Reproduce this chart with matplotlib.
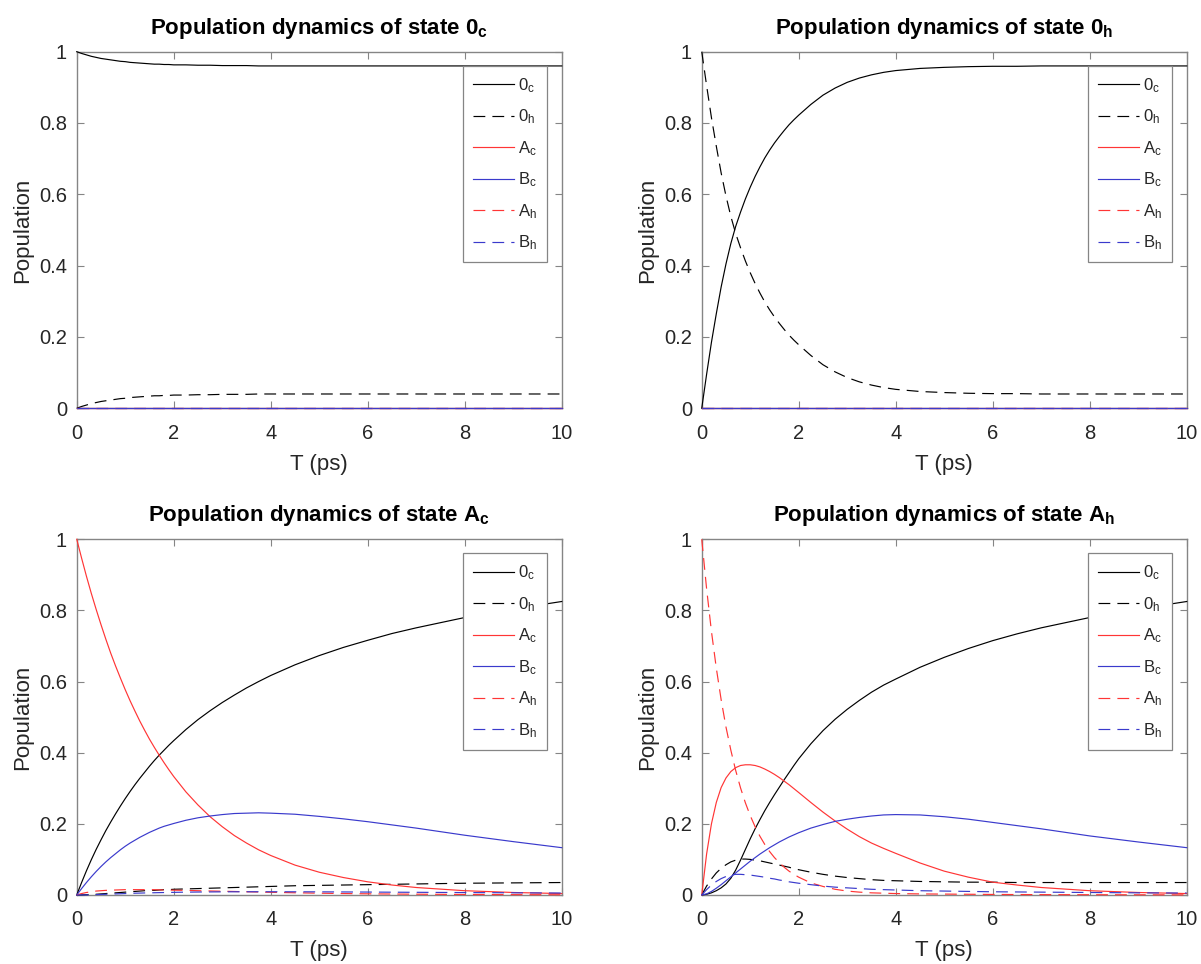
import matplotlib
matplotlib.use("Agg")
import matplotlib.pyplot as plt
from matplotlib.ticker import FuncFormatter

plt.rcParams["font.family"] = ["Liberation Sans", "DejaVu Sans"]
plt.rcParams["mathtext.fontset"] = "custom"
plt.rcParams["mathtext.rm"] = "Liberation Sans"
plt.rcParams["mathtext.it"] = "Liberation Sans:italic"
plt.rcParams["mathtext.bf"] = "Liberation Sans:bold"

# time axis (ps)
t = [0, 0.1, 0.2, 0.3, 0.4, 0.5, 0.6, 0.7, 0.8, 0.9,
     1.0, 1.1, 1.2, 1.3, 1.4, 1.5, 1.6, 1.7, 1.8, 1.9,
     2.0, 2.25, 2.5, 2.75, 3.0, 3.25, 3.5, 3.75, 4.0, 4.5,
     5.0, 5.5, 6.0, 6.5, 7.0, 8.0, 9.0, 10.0]
zero = [0.0] * len(t)

# ---- initial state 0c ----
p0c_0c = [1.000, 0.995, 0.991, 0.987, 0.984, 0.981, 0.979, 0.977, 0.975, 0.973,
          0.972, 0.970, 0.969, 0.968, 0.967, 0.966, 0.965, 0.965, 0.964, 0.964,
          0.963, 0.963, 0.962, 0.962, 0.961, 0.961, 0.961, 0.960, 0.960, 0.960,
          0.960, 0.960, 0.960, 0.960, 0.960, 0.960, 0.960, 0.960]
p0c_0h = [0.000, 0.005, 0.009, 0.013, 0.016, 0.019, 0.021, 0.023, 0.025, 0.027,
          0.028, 0.030, 0.031, 0.032, 0.033, 0.034, 0.035, 0.035, 0.036, 0.036,
          0.037, 0.037, 0.038, 0.038, 0.039, 0.039, 0.039, 0.040, 0.040, 0.040,
          0.040, 0.040, 0.040, 0.040, 0.040, 0.040, 0.040, 0.040]

# ---- initial state 0h ----
p0h_0c = [0.000, 0.095, 0.185, 0.265, 0.340, 0.405, 0.462, 0.510, 0.550, 0.587,
          0.620, 0.650, 0.677, 0.702, 0.724, 0.744, 0.762, 0.779, 0.795, 0.809,
          0.822, 0.852, 0.878, 0.898, 0.914, 0.926, 0.935, 0.942, 0.947, 0.953,
          0.956, 0.958, 0.959, 0.959, 0.960, 0.960, 0.960, 0.960]
p0h_0h = [1.000, 0.905, 0.815, 0.735, 0.660, 0.595, 0.538, 0.490, 0.450, 0.413,
          0.380, 0.350, 0.323, 0.298, 0.276, 0.256, 0.238, 0.221, 0.205, 0.191,
          0.178, 0.148, 0.122, 0.102, 0.086, 0.074, 0.065, 0.058, 0.053, 0.047,
          0.044, 0.042, 0.041, 0.041, 0.040, 0.040, 0.040, 0.040]

# ---- initial state Ac ----
pAc_0c = [0.000, 0.035, 0.068, 0.099, 0.128, 0.155, 0.181, 0.205, 0.228, 0.250,
          0.271, 0.291, 0.310, 0.328, 0.345, 0.362, 0.378, 0.393, 0.407, 0.421,
          0.434, 0.465, 0.493, 0.518, 0.541, 0.562, 0.582, 0.600, 0.617, 0.647,
          0.673, 0.696, 0.716, 0.735, 0.751, 0.780, 0.804, 0.825]
pAc_0h = [0.000, 0.0003, 0.001, 0.0015, 0.002, 0.003, 0.004, 0.005, 0.006, 0.007,
          0.008, 0.009, 0.010, 0.011, 0.012, 0.013, 0.013, 0.014, 0.015, 0.015,
          0.016, 0.017, 0.018, 0.019, 0.020, 0.021, 0.022, 0.023, 0.024, 0.026,
          0.027, 0.028, 0.029, 0.030, 0.031, 0.033, 0.034, 0.035]
pAc_Ac = [1.000, 0.947, 0.896, 0.848, 0.803, 0.760, 0.719, 0.680, 0.644, 0.610,
          0.577, 0.546, 0.517, 0.489, 0.463, 0.438, 0.415, 0.393, 0.372, 0.352,
          0.333, 0.290, 0.253, 0.220, 0.192, 0.167, 0.146, 0.127, 0.111, 0.084,
          0.064, 0.049, 0.037, 0.028, 0.021, 0.012, 0.007, 0.004]
pAc_Bc = [0.000, 0.018, 0.035, 0.051, 0.066, 0.080, 0.093, 0.105, 0.116, 0.127,
          0.137, 0.146, 0.154, 0.162, 0.169, 0.176, 0.182, 0.188, 0.193, 0.197,
          0.201, 0.210, 0.217, 0.222, 0.226, 0.229, 0.230, 0.231, 0.230, 0.227,
          0.221, 0.214, 0.206, 0.197, 0.188, 0.168, 0.150, 0.133]
pAc_Ah = [0.000, 0.004, 0.007, 0.009, 0.011, 0.012, 0.013, 0.0135, 0.014, 0.0145,
          0.015, 0.015, 0.015, 0.015, 0.015, 0.015, 0.0148, 0.0145, 0.014, 0.0138,
          0.0135, 0.013, 0.012, 0.0113, 0.0105, 0.0098, 0.009, 0.0083, 0.0075, 0.0062,
          0.005, 0.004, 0.0033, 0.0027, 0.0022, 0.0014, 0.0009, 0.0006]
pAc_Bh = [0.000, 0.0001, 0.0003, 0.0006, 0.001, 0.0015, 0.002, 0.0025, 0.003, 0.0035,
          0.004, 0.0045, 0.005, 0.0053, 0.0057, 0.006, 0.0063, 0.0066, 0.0069, 0.0071,
          0.0074, 0.0079, 0.0083, 0.0086, 0.0088, 0.009, 0.0091, 0.0091, 0.0091, 0.009,
          0.0088, 0.0085, 0.0082, 0.0078, 0.0075, 0.0068, 0.0061, 0.0055]

# ---- initial state Ah ----
pAh_0c = [0.000, 0.002, 0.006, 0.012, 0.020, 0.031, 0.047, 0.070, 0.098, 0.128,
          0.158, 0.186, 0.212, 0.237, 0.260, 0.282, 0.303, 0.324, 0.344, 0.364,
          0.383, 0.425, 0.462, 0.494, 0.522, 0.547, 0.570, 0.590, 0.607, 0.640,
          0.668, 0.693, 0.715, 0.734, 0.751, 0.780, 0.804, 0.825]
pAh_0h = [0.000, 0.025, 0.045, 0.062, 0.075, 0.085, 0.093, 0.098, 0.101, 0.101,
          0.100, 0.098, 0.096, 0.093, 0.090, 0.087, 0.084, 0.081, 0.078, 0.074,
          0.071, 0.064, 0.058, 0.053, 0.049, 0.046, 0.043, 0.041, 0.040, 0.038,
          0.037, 0.036, 0.036, 0.035, 0.035, 0.035, 0.035, 0.035]
pAh_Ac = [0.000, 0.115, 0.200, 0.260, 0.302, 0.329, 0.347, 0.358, 0.364, 0.366,
          0.366, 0.364, 0.360, 0.354, 0.347, 0.339, 0.330, 0.320, 0.310, 0.299,
          0.288, 0.260, 0.233, 0.208, 0.185, 0.164, 0.146, 0.131, 0.117, 0.090,
          0.067, 0.050, 0.036, 0.028, 0.021, 0.012, 0.007, 0.004]
pAh_Bc = [0.000, 0.003, 0.010, 0.019, 0.029, 0.040, 0.051, 0.062, 0.073, 0.084,
          0.095, 0.105, 0.115, 0.124, 0.133, 0.141, 0.149, 0.156, 0.163, 0.169,
          0.175, 0.188, 0.198, 0.207, 0.213, 0.218, 0.222, 0.225, 0.226, 0.225,
          0.220, 0.213, 0.204, 0.195, 0.186, 0.166, 0.149, 0.133]
pAh_Ah = [1.000, 0.861, 0.741, 0.638, 0.549, 0.472, 0.407, 0.350, 0.301, 0.259,
          0.223, 0.192, 0.165, 0.142, 0.122, 0.105, 0.091, 0.078, 0.067, 0.058,
          0.050, 0.034, 0.024, 0.016, 0.011, 0.008, 0.006, 0.005, 0.004, 0.003,
          0.0025, 0.002, 0.0015, 0.0012, 0.001, 0.0007, 0.0005, 0.0003]
pAh_Bh = [0.000, 0.015, 0.028, 0.038, 0.046, 0.052, 0.056, 0.058, 0.058, 0.057,
          0.056, 0.054, 0.052, 0.050, 0.047, 0.045, 0.042, 0.040, 0.037, 0.035,
          0.033, 0.029, 0.025, 0.022, 0.020, 0.018, 0.016, 0.015, 0.014, 0.012,
          0.011, 0.010, 0.009, 0.0085, 0.008, 0.007, 0.006, 0.0055]

labels = ["0$_\\mathrm{c}$", "0$_\\mathrm{h}$", "A$_\\mathrm{c}$",
          "B$_\\mathrm{c}$", "A$_\\mathrm{h}$", "B$_\\mathrm{h}$"]
titles = ["Population dynamics of state 0$_\\mathbf{c}$",
          "Population dynamics of state 0$_\\mathbf{h}$",
          "Population dynamics of state A$_\\mathbf{c}$",
          "Population dynamics of state A$_\\mathbf{h}$"]
x_ticks = [0, 2, 4, 6, 8, 10]
y_ticks = [0, 0.2, 0.4, 0.6, 0.8, 1.0]

panels = [
    [p0c_0c, p0c_0h, zero, zero, zero, zero],
    [p0h_0c, p0h_0h, zero, zero, zero, zero],
    [pAc_0c, pAc_0h, pAc_Ac, pAc_Bc, pAc_Ah, pAc_Bh],
    [pAh_0c, pAh_0h, pAh_Ac, pAh_Bc, pAh_Ah, pAh_Bh],
]

red = "#ff3535"
blue = "#3a3acc"
dash = (0, (10, 6))
styles = [("black", "-"), ("black", dash), (red, "-"),
          (blue, "-"), (red, dash), (blue, dash)]

fig = plt.figure(figsize=(12.01, 9.64), dpi=100)
positions = [
    (0.0639, 0.5765, 0.4038, 0.3699),
    (0.5843, 0.5765, 0.4038, 0.3699),
    (0.0639, 0.0716, 0.4038, 0.3690),
    (0.5843, 0.0716, 0.4038, 0.3690),
]
axis_grey = "#858585"
text_dark = "#262626"

for pos, series, title in zip(positions, panels, titles):
    ax = fig.add_axes(pos)
    for y, (c, ls), lab in zip(series, styles, labels):
        ax.plot(t, y, color=c, linestyle=ls, linewidth=0.85, label=lab,
                clip_on=False, zorder=3)
    ax.set_xlim(0, 10)
    ax.set_ylim(0, 1)
    ax.set_xticks(x_ticks)
    ax.set_yticks(y_ticks)
    ax.yaxis.set_major_formatter(FuncFormatter(lambda v, p: f"{v:g}"))
    ax.tick_params(direction="in", top=True, right=True, length=5,
                   width=0.8, color=axis_grey, labelsize=14.5,
                   labelcolor=text_dark)
    ax.tick_params(axis="x", pad=11)
    ax.tick_params(axis="y", pad=7)
    for s in ax.spines.values():
        s.set_color(axis_grey)
        s.set_linewidth(1.0)
    ax.set_xlabel("T (ps)", fontsize=16, color=text_dark, labelpad=8)
    ax.set_ylabel("Population", fontsize=16, color=text_dark, labelpad=4)
    ax.set_title(title, fontsize=16, fontweight="bold", color="black",
                 pad=13)
    leg = ax.legend(loc="upper right", bbox_to_anchor=(0.970, 0.960),
                    borderaxespad=0, fontsize=12, labelspacing=0.77,
                    handlelength=2.45, handletextpad=0.25, borderpad=0.6,
                    fancybox=False, framealpha=1)
    leg.set_zorder(5)
    leg.get_frame().set_edgecolor(axis_grey)
    leg.get_frame().set_linewidth(0.9)
    for txt in leg.get_texts():
        txt.set_color(text_dark)

fig.savefig("out.png", dpi=100)
